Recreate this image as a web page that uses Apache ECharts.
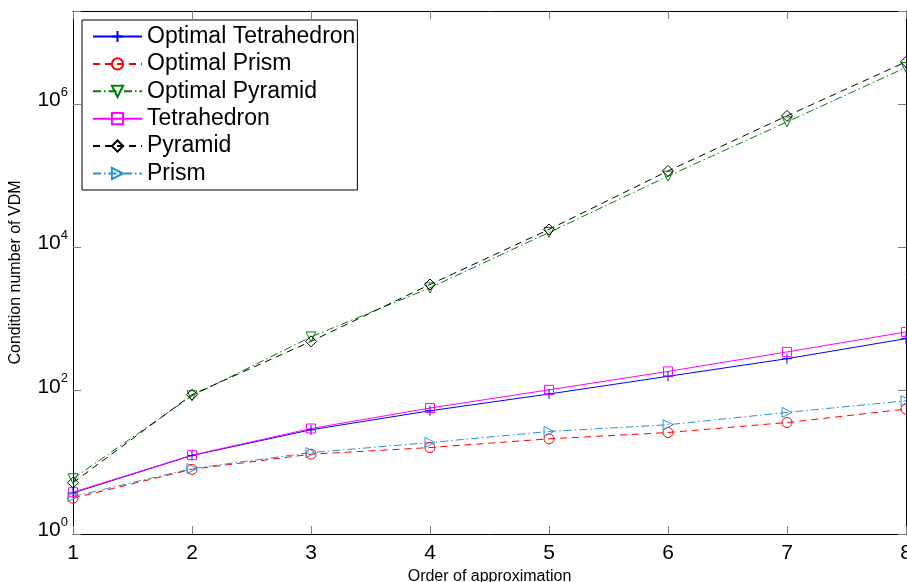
<!DOCTYPE html>
<html>
<head>
<meta charset="utf-8">
<script src="https://cdn.jsdelivr.net/npm/echarts@6/dist/echarts.min.js"></script>
<style>html,body{margin:0;padding:0;background:#fff}#c{width:907px;height:582px}</style>
</head>
<body>
<div id="c"></div>
<script>
var orders = [1, 2, 3, 4, 5, 6, 7, 8];
var optTetrahedron = [3.75, 12.5, 28.5, 52.5, 90, 159, 280, 534];
var optPrism = [3.16, 8.0, 13.0, 16.1, 21.3, 26.1, 36, 55.5];
var optPyramid = [5.9, 85, 564, 2730, 16200, 99000, 566000, 3260000];
var tetrahedron = [3.83, 12.6, 29.7, 57.3, 103, 186, 348, 662];
var pyramid = [5.2, 88, 489, 3040, 17850, 117000, 687000, 3900000];
var prism = [3.33, 8.2, 13.7, 18.9, 27, 33.5, 49.8, 72.5];
var seriesNames = ['Optimal Tetrahedron', 'Optimal Prism', 'Optimal Pyramid', 'Tetrahedron', 'Pyramid', 'Prism'];
var xTicks = [1, 2, 3, 4, 5, 6, 7, 8];
var yTickExponents = [0, 2, 4, 6];

var FONT = 'Liberation Sans';
var DASH = [7, 5];
var DASHDOT = [8, 3, 1.5, 3];

function pts(arr) { return orders.map(function (x, i) { return [x, arr[i]]; }); }

function mk(name, data, color, lineType, symbol, size, rotate) {
  return {
    name: name, type: 'line', data: pts(data),
    symbol: symbol, symbolSize: size, symbolRotate: rotate || 0,
    showAllSymbol: true, clip: false,
    lineStyle: { color: color, width: 1, type: lineType },
    itemStyle: { color: 'transparent', borderColor: color, borderWidth: 1 },
    emphasis: { disabled: true },
    xAxisIndex: 0, yAxisIndex: 0
  };
}

var PLUS = 'path://M5,0 L5,10 M0,5 L10,5';
var DOWNTRI = 'path://M0,0 L10,0 L5,10 Z';
var RIGHTTRI = 'path://M0,0 L10,5 L0,10 Z';
var DIAMOND = 'path://M5,0 L10,6 L5,12 L0,6 Z';

function yFmt(v) {
  var e = Math.log(v) / Math.LN10;
  var r = Math.round(e);
  if (Math.abs(e - r) > 1e-6 || yTickExponents.indexOf(r) < 0) return '';
  return '{b|10}{s|' + r + '}';
}

var chart = echarts.init(document.getElementById('c'), null, { renderer: 'canvas' });
var tickStyle = { color: '#7f7f7f', width: 1 };
chart.setOption({
  animation: false,
  backgroundColor: '#fff',
  textStyle: { fontFamily: FONT },
  grid: { left: 73, right: 1, top: 11, bottom: 48, containLabel: false, outerBoundsMode: 'none' },
  xAxis: [{
    type: 'value', min: 1, max: 8, interval: 1, position: 'bottom',
    name: 'Order of approximation', nameLocation: 'middle', nameGap: 33,
    nameTextStyle: { fontFamily: FONT, fontSize: 16, color: '#000' },
    axisLine: { lineStyle: { color: '#000', width: 1 } },
    axisTick: { inside: true, length: 8, lineStyle: tickStyle },
    axisLabel: { fontFamily: FONT, fontSize: 21, color: '#000', margin: 9, hideOverlap: false,
      formatter: function (v) { return xTicks.indexOf(v) >= 0 ? String(v) : ''; } },
    splitLine: { show: false }
  }, {
    type: 'value', min: 1, max: 8, interval: 1, position: 'top',
    axisLine: { lineStyle: { color: '#000', width: 1 } },
    axisTick: { inside: true, length: 8, lineStyle: tickStyle },
    axisLabel: { show: false }, splitLine: { show: false }
  }],
  yAxis: [{
    type: 'log', logBase: 10, min: 1, max: 2e7, interval: 2, position: 'left',
    name: 'Condition number of VDM', nameLocation: 'middle', nameGap: 49,
    nameTextStyle: { fontFamily: FONT, fontSize: 16, color: '#000' },
    axisLine: { show: true, lineStyle: { color: '#000', width: 1 } },
    axisTick: { inside: true, length: 8, lineStyle: tickStyle },
    minorTick: { show: false },
    axisLabel: {
      margin: 5, formatter: yFmt,
      rich: {
        b: { fontFamily: FONT, fontSize: 21, color: '#000', lineHeight: 21, padding: [0, 0, 4, 0], verticalAlign: 'bottom' },
        s: { fontFamily: FONT, fontSize: 13, color: '#000', lineHeight: 13, padding: [0, 0, 16, 0], verticalAlign: 'bottom' }
      }
    },
    splitLine: { show: false }
  }, {
    type: 'log', logBase: 10, min: 1, max: 2e7, interval: 2, position: 'right',
    axisLine: { show: true, lineStyle: { color: '#000', width: 1 } },
    axisTick: { inside: true, length: 8, lineStyle: tickStyle },
    axisLabel: { show: false }, splitLine: { show: false }
  }],
  legend: {
    orient: 'vertical', left: 82, top: 20,
    data: seriesNames,
    itemWidth: 49, itemHeight: 14, itemGap: 4.4,
    padding: [5, 2, 5, 10],
    backgroundColor: '#fff', borderColor: '#000', borderWidth: 1,
    textStyle: { fontFamily: FONT, fontSize: 23, color: '#000', lineHeight: 23 },
    selectedMode: false
  },
  series: [
    mk(seriesNames[0], optTetrahedron, '#0000ff', 'solid', PLUS, 10),
    mk(seriesNames[1], optPrism, '#ff0000', DASH, 'circle', 10),
    mk(seriesNames[2], optPyramid, '#008000', DASHDOT, DOWNTRI, 10),
    mk(seriesNames[3], tetrahedron, '#ff00ff', 'solid', 'rect', 9),
    mk(seriesNames[4], pyramid, '#000000', DASH, DIAMOND, 11),
    mk(seriesNames[5], prism, '#2b8fd6', DASHDOT, RIGHTTRI, 10)
  ]
});
</script>
</body>
</html>
